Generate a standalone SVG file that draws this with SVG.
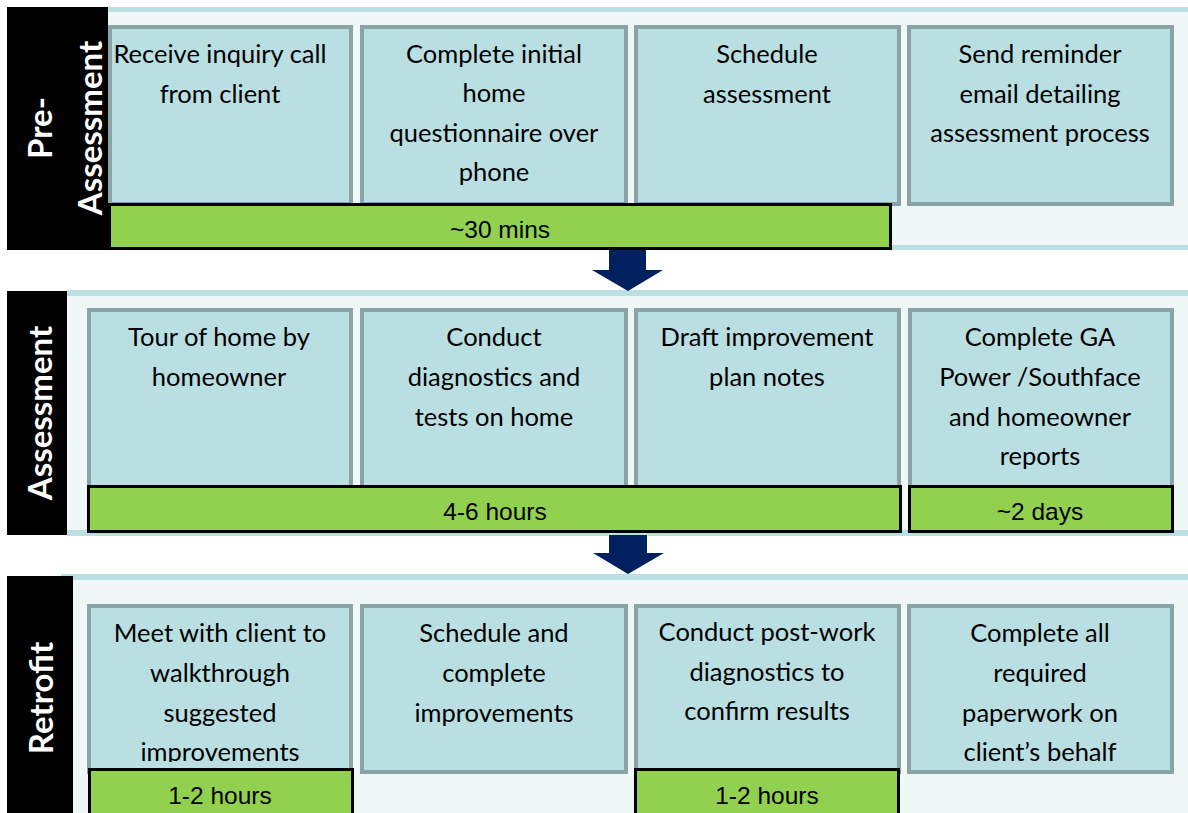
<svg xmlns="http://www.w3.org/2000/svg" width="1188" height="813" viewBox="0 0 1188 813">
<style>
.panel{fill:#eff7f7}
.pline{fill:#bcdfe3}
.lbl{fill:#000}
.lt{font-family:Lato,"Open Sans",sans-serif;font-weight:bold;font-size:33px;fill:#fff;text-anchor:middle}
.box{fill:#badfe3;stroke:#8aa3a5;stroke-width:4}
.bt{font-family:Lato,"Open Sans",sans-serif;font-size:25.5px;fill:#000;text-anchor:middle}
.bar{fill:#92d050;stroke:#000;stroke-width:3}
.tt{font-family:"Liberation Sans",Arial,sans-serif;font-size:24.5px;fill:#000;text-anchor:middle}
.arr{fill:#002060}
</style>
<defs>
<clipPath id="clipR1"><rect x="89" y="606" width="262" height="156"/></clipPath>
</defs>
<rect width="1188" height="813" fill="#fff"/>

<g id="band-pre-assessment">
<rect class="panel" x="108" y="7" width="1080" height="243"/>
<rect class="pline" x="108" y="7" width="1080" height="5"/>
<rect class="pline" x="108" y="245" width="1080" height="5"/>
<rect class="lbl" x="7" y="7" width="101" height="243"/>
<text class="lt" transform="translate(52,128) rotate(-90)">Pre-</text>
<text class="lt" transform="translate(102,128) rotate(-90)">Assessment</text>
<g id="n-receive">
<rect class="box" x="110" y="27" width="241" height="177"/>
<text class="bt" x="220" y="63">Receive inquiry call</text>
<text class="bt" x="220" y="103">from client</text>
</g>
<g id="n-questionnaire">
<rect class="box" x="362" y="27" width="264" height="177"/>
<text class="bt" x="494" y="63">Complete initial</text>
<text class="bt" x="494" y="102">home</text>
<text class="bt" x="494" y="142">questionnaire over</text>
<text class="bt" x="494" y="181">phone</text>
</g>
<g id="n-schedule">
<rect class="box" x="636" y="27" width="263" height="177"/>
<text class="bt" x="767" y="63">Schedule</text>
<text class="bt" x="767" y="103">assessment</text>
</g>
<g id="n-reminder">
<rect class="box" x="909" y="27" width="263" height="177"/>
<text class="bt" x="1040" y="63">Send reminder</text>
<text class="bt" x="1040" y="103">email detailing</text>
<text class="bt" x="1040" y="142">assessment process</text>
</g>
<g id="t-30mins">
<rect class="bar" x="109.5" y="204.5" width="781" height="44"/>
<text class="tt" x="500" y="238">~30 mins</text>
</g>
</g>

<g id="band-assessment">
<rect class="panel" x="67" y="290" width="1121" height="246"/>
<rect class="pline" x="67" y="290" width="1121" height="6"/>
<rect class="pline" x="67" y="530" width="1121" height="6"/>
<rect class="lbl" x="7" y="291" width="60" height="244"/>
<text class="lt" transform="translate(52,413) rotate(-90)">Assessment</text>
<g id="n-tour">
<rect class="box" x="89" y="310" width="262" height="178"/>
<text class="bt" x="219" y="346">Tour of home by</text>
<text class="bt" x="219" y="386">homeowner</text>
</g>
<g id="n-diagnostics">
<rect class="box" x="362" y="310" width="264" height="178"/>
<text class="bt" x="494" y="346">Conduct</text>
<text class="bt" x="494" y="386">diagnostics and</text>
<text class="bt" x="494" y="426">tests on home</text>
</g>
<g id="n-draft">
<rect class="box" x="636" y="310" width="263" height="178"/>
<text class="bt" x="767" y="346">Draft improvement</text>
<text class="bt" x="767" y="386">plan notes</text>
</g>
<g id="n-reports">
<rect class="box" x="910" y="310" width="262" height="178"/>
<text class="bt" x="1040" y="346">Complete GA</text>
<text class="bt" x="1040" y="386">Power /Southface</text>
<text class="bt" x="1040" y="426">and homeowner</text>
<text class="bt" x="1040" y="465">reports</text>
</g>
<g id="t-4-6hours">
<rect class="bar" x="88.5" y="486.5" width="812" height="45"/>
<text class="tt" x="495" y="520">4-6 hours</text>
</g>
<g id="t-2days">
<rect class="bar" x="909.5" y="486.5" width="263" height="45"/>
<text class="tt" x="1040" y="520">~2 days</text>
</g>
</g>

<g id="band-retrofit">
<rect class="panel" x="61" y="574" width="1127" height="239"/>
<rect class="pline" x="61" y="574" width="1127" height="6"/>
<rect class="lbl" x="7" y="576" width="66" height="237"/>
<text class="lt" transform="translate(53,698) rotate(-90)">Retrofit</text>
<g id="n-walkthrough">
<rect class="box" x="89" y="606" width="262" height="166"/>
<g clip-path="url(#clipR1)">
<text class="bt" x="220" y="642">Meet with client to</text>
<text class="bt" x="220" y="682">walkthrough</text>
<text class="bt" x="220" y="722">suggested</text>
<text class="bt" x="220" y="761">improvements</text>
</g>
</g>
<g id="n-improvements">
<rect class="box" x="362" y="606" width="264" height="166"/>
<text class="bt" x="494" y="642">Schedule and</text>
<text class="bt" x="494" y="682">complete</text>
<text class="bt" x="494" y="722">improvements</text>
</g>
<g id="n-postwork">
<rect class="box" x="636" y="606" width="263" height="166"/>
<text class="bt" x="767" y="641">Conduct post-work</text>
<text class="bt" x="767" y="681">diagnostics to</text>
<text class="bt" x="767" y="720">confirm results</text>
</g>
<g id="n-paperwork">
<rect class="box" x="909" y="606" width="263" height="166"/>
<text class="bt" x="1040" y="642">Complete all</text>
<text class="bt" x="1040" y="682">required</text>
<text class="bt" x="1040" y="722">paperwork on</text>
<text class="bt" x="1040" y="761">client’s behalf</text>
</g>
<g id="t-1-2hours-a">
<rect class="bar" x="89.5" y="769.5" width="263" height="50"/>
<text class="tt" x="220" y="804">1-2 hours</text>
</g>
<g id="t-1-2hours-b">
<rect class="bar" x="635.5" y="769.5" width="263" height="50"/>
<text class="tt" x="767" y="804">1-2 hours</text>
</g>
</g>

<g id="connectors">
<polygon class="arr" points="609,250 646,250 646,270 663,270 628,291 592,270 609,270"/>
<polygon class="arr" points="609,535 647,535 647,553 664,553 628,574 593,553 609,553"/>
</g>
</svg>
